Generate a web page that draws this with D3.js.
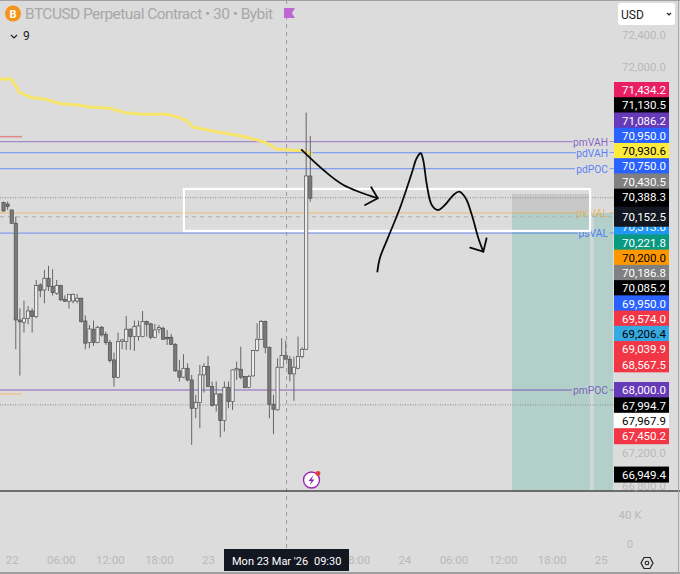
<!DOCTYPE html>
<html lang="en">
<head>
<meta charset="UTF-8">
<title>BTCUSD Perpetual Contract</title>
<script src="https://d3js.org/d3.v7.min.js"></script>
<style>
  html, body { margin: 0; padding: 0; background: #dcdcdc; overflow: hidden; }
  svg { display: block; font-family: Roboto, "Liberation Sans", sans-serif; }
  .axis text { fill: #b9b9b9; font-size: 11.5px; font-family: Roboto, sans-serif; }
  .axis path { display: none; }
  .axis line { display: none; }
</style>
</head>
<body>
<div id="chart"></div>
<script>
// candles: index 0 is 22 Mar 00:00, one candle every 30 minutes
const opens = [70328,70311,70237,70071,68870,68841,68891,68982,68912,69305,69243,69388,69284,69202,69297,69127,69098,69106,69106,69140,68858,68589,68755,68589,68779,68692,68589,68374,68158,68601,68601,68755,68663,68663,68663,68850,68821,68655,68755,68767,68655,68655,68568,68237,68159,68270,68125,67773,67844,68188,68291,68043,67815,67951,67620,68034,67856,68250,68258,68167,68030,68175,68490,68630,68850,68531,67823,67753,68283,68428,68382,68200,68270,68415,68506,70659];
const highs = [70340,70340,70237,70154,69015,69111,69044,69015,69367,69326,69491,69541,69500,69367,69305,69177,69189,69197,69193,69148,68928,68808,68862,68796,68796,68725,68622,68465,68713,68634,68920,68767,68862,68862,68982,68862,68837,68821,68809,68788,68746,68697,68581,68374,68444,68332,68188,67939,68312,68332,68424,68105,68105,67960,68105,68105,68258,68353,68539,68175,68188,68498,68829,68871,68862,68539,67939,68394,68643,68614,68424,68415,68664,68531,71446,71156];
const lows = [70216,70237,70071,68506,68179,68713,68817,68713,68891,69152,69077,69231,69173,69181,69111,69094,69011,69077,69077,68837,68506,68518,68547,68581,68663,68560,68340,68042,68146,68506,68498,68498,68485,68614,68655,68663,68630,68643,68705,68622,68560,68560,68229,68105,68146,68105,67318,67649,67525,67968,68034,67794,67732,67413,67484,67773,67753,68125,68134,68022,68022,68167,68477,68622,68457,67649,67451,67745,68270,68382,68105,67865,68258,68394,68498,70340];
const closes = [70224,70278,70071,68870,68846,68891,68982,68912,69297,69235,69388,69284,69210,69297,69119,69102,69189,69189,69140,68850,68581,68759,68589,68779,68684,68589,68365,68158,68601,68622,68755,68663,68788,68796,68850,68817,68655,68746,68775,68630,68635,68568,68237,68159,68270,68125,67773,67844,68188,68291,68043,67807,67951,67620,68034,67856,68250,68266,68159,68030,68167,68490,68630,68850,68531,67823,67761,68283,68428,68382,68200,68283,68415,68506,70659,70382];
const firstIndex = -2;

// yellow average line
const avgIndex = [-3,0,1.9,4.9,8.1,11.8,16.2,19.1,24,27.7,32.1,38,40.3,42.8,44.3,50.1,55.8,60.7,61.9,64.8,70.9,73.5];
const avgPrice = [71863,71860,71698,71631,71615,71557,71540,71515,71499,71445,71425,71425,71395,71345,71267,71209,71159,71097,71077,70994,70973,70930];

// hand drawn arrows, in candle index and price
const arrowOneIndex = [70.9,76.2,81.1,89.5];
const arrowOnePrice = [70982,70733,70547,70382];
const headOneIndex = [87.9,89.5,86.4];
const headOnePrice = [70518,70382,70298];
const arrowTwoIndex = [89.4,90,92.1,94.9,97.8,99,100,100.6,101.5,102.7,104.2,105.9,108,109.4,111,112.5,114.1,115.3];
const arrowTwoPrice = [69470,69636,69905,70258,70692,70879,70941,70857,70547,70298,70236,70298,70423,70464,70382,70174,69885,69718];
const headTwoIndex = [116.1,115.3,112.1];
const headTwoPrice = [69885,69718,69768];

// named levels
const levelNames = ["pmVAH","pdVAH","pdPOC","px VAL","psVAL","pmPOC"];
const levelPrices = [71086.2,70950,70750,70200,69950,68000];
const levelColors = ["#673ab7","#2962ff","#2962ff","#ff9800","#2962ff","#673ab7"];

// price tags on the right axis, top to bottom
const tagPrices = [71434.2,71130.5,71086.2,70950.0,70930.6,70750.0,70430.5,70388.3,70280.0,70313.0,70221.8,70200.0,70186.8,70085.2,69950.0,69574.0,69206.4,69039.9,68567.5,68000.0,67994.7,67967.9,67450.2,66949.4];
const tagFills = ["#e91e63","#000","#673ab7","#2962ff","#ffeb3b","#2962ff","#808080","#000","#000","#2196f3","#089981","#ff9800","#808080","#000","#2962ff","#f23645","#35a9e0","#f23645","#f23645","#673ab7","#000","#fff","#f23645","#000"];
const tagInk = ["#fff","#fff","#fff","#fff","#000","#fff","#fff","#fff","#fff","#fff","#fff","#000","#fff","#fff","#fff","#fff","#000","#fff","#fff","#fff","#fff","#000","#fff","#fff"];
const currentPrice = 70152.5;

const priceTicks = [72400,72000,67200,66800];
const volumeTicks = [0,40000];
// the 06:00 and 12:00 ticks of the 23rd sit under the crosshair tag
const timeTicks = [0,12,24,36,48,84,96,108,120,132,144];
const timeLabels = ["22","06:00","12:00","18:00","23","18:00","24","06:00","12:00","18:00","25"];

const W = 680, H = 574, paneRight = 614, paneBottom = 491;

const x = d3.scaleLinear().domain([0, 144]).range([11.7, 600.7]);
const y = d3.scaleLinear().domain([72000, 68000]).range([68, 390]);
const yVol = d3.scaleLinear().domain([0, 40000]).range([544, 515]);

const svg = d3.select("#chart").append("svg").attr("width", W).attr("height", H);
svg.append("rect").attr("width", W).attr("height", H).attr("fill", "#dcdcdc");

svg.append("defs").append("clipPath").attr("id", "pane")
  .append("rect").attr("width", paneRight).attr("height", paneBottom);
const pane = svg.append("g").attr("clip-path", "url(#pane)");

// position tool
const boxLeft = 42.1, boxRight = 141.4, boxTop = 70497, boxBottom = 69976;
const toolLeft = 122.3, toolRight = 147, toolEntry = 70200, toolStop = 70435;
pane.append("rect").attr("x", x(toolLeft)).attr("width", x(toolRight) - x(toolLeft))
  .attr("y", y(toolEntry)).attr("height", paneBottom - y(toolEntry)).attr("fill", "#b3cfc9");
pane.append("rect").attr("x", x(toolLeft)).attr("width", x(boxRight) - x(toolLeft))
  .attr("y", y(toolStop)).attr("height", y(toolEntry) - y(toolStop)).attr("fill", "#c8c8c8");
pane.append("rect").attr("x", x(boxRight)).attr("width", 3.5)
  .attr("y", y(boxTop)).attr("height", paneBottom - y(boxTop)).attr("fill", "#dcdcdc").attr("opacity", 0.75);

// level lines with a gap for the name
const levelEnds = [573, 576, 575, 576, 578, 572];
levelPrices.forEach((p, k) => {
  pane.append("line").attr("x1", 0).attr("x2", levelEnds[k]).attr("y1", y(p)).attr("y2", y(p))
    .attr("stroke", levelColors[k]).attr("stroke-opacity", k === 3 ? 0.38 : 0.5).attr("stroke-width", 1.3);
  pane.append("line").attr("x1", 609.5).attr("x2", 614).attr("y1", y(p)).attr("y2", y(p))
    .attr("stroke", levelColors[k]).attr("stroke-opacity", 0.5);
  pane.append("text").attr("x", 608).attr("y", y(p) + 4).attr("text-anchor", "end")
    .attr("font-size", 10.3).attr("fill", levelColors[k]).attr("fill-opacity", k === 3 ? 0.6 : 0.75).text(levelNames[k]);
});

// short stubs at the left edge
pane.append("line").attr("x1", 0).attr("x2", 22).attr("y1", y(71147)).attr("y2", y(71147))
  .attr("stroke", "#e08a8a").attr("stroke-width", 1.5);
pane.append("line").attr("x1", 0).attr("x2", 22).attr("y1", y(67950)).attr("y2", y(67950))
  .attr("stroke", "#ecc88f").attr("stroke-width", 1.5);

// dotted price lines
const lowDotted = 67815;
[tagPrices[7], lowDotted].forEach(p => {
  pane.append("line").attr("x1", 0).attr("x2", paneRight).attr("y1", y(p)).attr("y2", y(p))
    .attr("stroke", "#8a8a8a").attr("stroke-dasharray", "1,1.5");
});
pane.append("line").attr("x1", 0).attr("x2", paneRight).attr("y1", y(currentPrice)).attr("y2", y(currentPrice))
  .attr("stroke", "#b0b0b0").attr("stroke-width", 1).attr("stroke-dasharray", "4,4");

// white zone
pane.append("rect").attr("x", x(boxLeft)).attr("width", x(boxRight) - x(boxLeft))
  .attr("y", y(boxTop)).attr("height", y(boxBottom) - y(boxTop))
  .attr("fill", "none").attr("stroke", "#fff").attr("stroke-width", 2.2);

// crosshair
svg.append("line").attr("x1", x(67.2)).attr("x2", x(67.2)).attr("y1", 0).attr("y2", 549)
  .attr("stroke", "#9a9a9a").attr("stroke-dasharray", "4,4");

// average line
const avgLine = d3.line().x(d => x(d[0])).y(d => y(d[1]));
pane.append("path").attr("d", avgLine(d3.zip(avgIndex, avgPrice)))
  .attr("fill", "none").attr("stroke", "#f5e36a").attr("stroke-width", 3).attr("stroke-linejoin", "round");

// candles
const candles = d3.range(opens.length).map(k => ({
  i: k + firstIndex, o: opens[k], h: highs[k], l: lows[k], c: closes[k]
}));
const bodyW = 3.2;
const cg = pane.selectAll("g.candle").data(candles).join("g").attr("class", "candle");
cg.append("line").attr("x1", d => x(d.i)).attr("x2", d => x(d.i))
  .attr("y1", d => y(d.h)).attr("y2", d => y(d.l))
  .attr("stroke", "#666").attr("stroke-width", 1);
cg.append("rect").attr("x", d => x(d.i) - bodyW / 2).attr("width", bodyW)
  .attr("y", d => y(Math.max(d.o, d.c)))
  .attr("height", d => Math.max(1, Math.abs(y(d.o) - y(d.c))))
  .attr("fill", d => d.c >= d.o ? "#ececec" : "#7a7a7a")
  .attr("stroke", "#4f4f4f").attr("stroke-width", 0.7);

// hand drawn arrows
const inkLine = d3.line().x(d => x(d[0])).y(d => y(d[1]));
const inkCurve = d3.line().x(d => x(d[0])).y(d => y(d[1])).curve(d3.curveCatmullRom.alpha(0.5));
[[arrowOneIndex, arrowOnePrice, inkCurve], [headOneIndex, headOnePrice, inkLine],
 [arrowTwoIndex, arrowTwoPrice, inkCurve], [headTwoIndex, headTwoPrice, inkLine]].forEach(a => {
  svg.append("path").attr("d", a[2](d3.zip(a[0], a[1])))
    .attr("fill", "none").attr("stroke", "#0a0a0a").attr("stroke-width", 1.8)
    .attr("stroke-linecap", "round").attr("stroke-linejoin", "round");
});

// separators and frame
svg.append("line").attr("x1", 0).attr("x2", W).attr("y1", paneBottom).attr("y2", paneBottom)
  .attr("stroke", "#4a4a4a").attr("stroke-width", 1.4);
svg.append("line").attr("x1", 0).attr("x2", W).attr("y1", 0.5).attr("y2", 0.5).attr("stroke", "#a0a0a0");
svg.append("line").attr("x1", 0).attr("x2", W).attr("y1", 573).attr("y2", 573).attr("stroke", "#a0a0a0").attr("stroke-width", 2);
svg.append("line").attr("x1", 678.5).attr("x2", 678.5).attr("y1", 0).attr("y2", H).attr("stroke", "#a8a8a8");

// axes
const priceAxis = svg.append("g").attr("class", "axis").attr("transform", "translate(644,-1.2)")
  .call(d3.axisRight(y).tickValues(priceTicks).tickFormat(d3.format(",.1f")).tickSize(0).tickPadding(0));
priceAxis.selectAll("text").attr("text-anchor", "middle");
const volAxis = svg.append("g").attr("class", "axis").attr("transform", "translate(630,0)")
  .call(d3.axisRight(yVol).tickValues(volumeTicks).tickFormat(d => d ? (d / 1000) + " K" : "0").tickSize(0).tickPadding(0));
volAxis.selectAll("text").attr("text-anchor", "middle");
const timeAxis = svg.append("g").attr("class", "axis").attr("transform", "translate(0,556)")
  .call(d3.axisBottom(x).tickValues(timeTicks).tickFormat((d, k) => timeLabels[k]).tickSize(0).tickPadding(0));

// price tags
const rowH = 15.24;
const tagY = tagPrices.map((p, k) => {
  if (k < 19) return 90 + k * rowH;
  if (k < 23) return y(tagPrices[19]) + (k - 19) * 15.4;
  return y(p);
});
const tags = svg.selectAll("g.tag").data(tagPrices).join("g").attr("class", "tag")
  .attr("transform", (d, k) => `translate(614,${tagY[k]})`);
tags.append("rect").attr("y", -8).attr("width", 55).attr("height", 16)
  .attr("fill", (d, k) => tagFills[k]);
// row 8 lies fully under the current price tag, so it gets no text
tags.filter((d, k) => k !== 8).append("text").attr("x", 30).attr("y", 4.2).attr("text-anchor", "middle")
  .attr("font-size", 11.5).attr("fill", d => tagInk[tagPrices.indexOf(d)]).text(d3.format(",.1f"));

// current price tag sits over the stack
const cur = svg.append("g").attr("transform", `translate(614,${y(currentPrice)})`);
cur.append("rect").attr("y", -10).attr("width", 55).attr("height", 20).attr("rx", 1).attr("fill", "#131722");
cur.append("text").attr("x", 30).attr("y", 4.2).attr("text-anchor", "middle")
  .attr("font-size", 11.5).attr("fill", "#fff").text(d3.format(",.1f")(currentPrice));

// crosshair time tag
svg.append("rect").attr("x", 224).attr("y", 549).attr("width", 125).attr("height", 22).attr("fill", "#131722");
svg.append("text").attr("x", 232).attr("y", 564.5)
  .attr("font-size", 11).attr("fill", "#fff").text("Mon 23 Mar '26");
svg.append("text").attr("x", 314).attr("y", 564.5)
  .attr("font-size", 11).attr("fill", "#fff").text("09:30");

// header
svg.append("circle").attr("cx", 13).attr("cy", 13.5).attr("r", 8).attr("fill", "#f7931a");
svg.append("text").attr("x", 13).attr("y", 17.5).attr("text-anchor", "middle")
  .attr("font-size", 11).attr("font-weight", 700).attr("fill", "#fff").text("B");
svg.append("text").attr("x", 25).attr("y", 19).attr("font-size", 15.5).attr("fill", "#a8a8a8")
  .attr("textLength", 248).text("BTCUSD Perpetual Contract • 30 • Bybit");
svg.append("path").attr("d", "M284,8H295L292,13L295,18H284Z").attr("fill", "#c066d3");
svg.append("path").attr("d", "M11,35L14,38L17,35").attr("fill", "none").attr("stroke", "#222").attr("stroke-width", 1.2);
svg.append("text").attr("x", 23).attr("y", 40).attr("font-size", 12).attr("fill", "#222").text("9");

// currency button
svg.append("rect").attr("x", 618).attr("y", 3).attr("width", 57).attr("height", 22).attr("rx", 3).attr("fill", "#fff");
svg.append("text").attr("x", 621).attr("y", 18.5).attr("font-size", 12).attr("fill", "#222").text("USD");
svg.append("path").attr("d", "M667,13L669,15L671,13").attr("fill", "none").attr("stroke", "#222").attr("stroke-width", 1.2);

// lightning badge
svg.append("circle").attr("cx", 311.5).attr("cy", 480).attr("r", 8).attr("fill", "#fff")
  .attr("stroke", "#9c27b0").attr("stroke-width", 1.4);
svg.append("path").attr("d", "M313.5,475L308.5,481H311.5L309.5,485.5L314.5,479.5H311.5Z").attr("fill", "#8e24aa");
svg.append("circle").attr("cx", 318).attr("cy", 473.5).attr("r", 2.4).attr("fill", "#e53935");

// settings icon
svg.append("path").attr("d", "M641,563L644,557.5H650L653,563L650,568.5H644Z")
  .attr("fill", "none").attr("stroke", "#222").attr("stroke-width", 1.2);
svg.append("circle").attr("cx", 647).attr("cy", 563).attr("r", 1.8).attr("fill", "none").attr("stroke", "#222").attr("stroke-width", 1.1);
</script>
</body>
</html>
